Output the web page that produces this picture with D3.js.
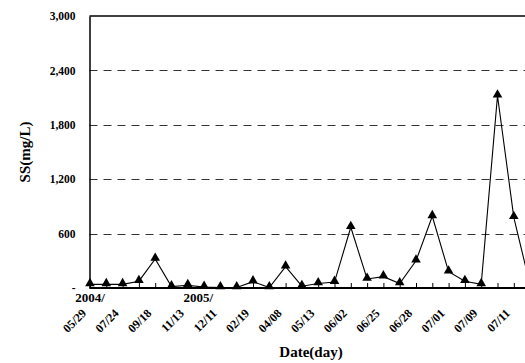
<!DOCTYPE html>
<html>
<head>
<meta charset="utf-8">
<script src="https://cdn.jsdelivr.net/npm/d3@7"></script>
<style>
  body { margin: 0; background: #fff; }
  text { font-family: "Liberation Serif", "Times New Roman", serif; font-weight: bold; fill: #000; }
</style>
</head>
<body>
<script>
const width = 525, height = 363;

// sample index (points are evenly spaced on the axis)
const ss = [40, 40, 40, 75, 320, 15, 30, 10, 5, 5, 70, 5, 235, 20, 50, 65, 670, 100,
            125, 50, 300, 790, 180, 75, 40, 2120, 780, 30];
const tickLabels = ['05/29', '07/24', '09/18', '11/13', '12/11', '02/19', '04/08',
                    '05/13', '06/02', '06/25', '06/28', '07/01', '07/09', '07/11'];
const yearLabels = [{ idx: 0, text: '2004/' }, { idx: 8, text: '2005/' }];
const yTicks = [0, 600, 1200, 1800, 2400, 3000];

const plotLeft = 89.5, plotTop = 16, plotBottom = 288;

let x = d3.scaleLinear().domain([0, 27]).range([plotLeft + 0.5, plotLeft + 0.5 + 16.3 * 27]);
let y = d3.scaleLinear().domain([0, 3000]).range([plotBottom, plotTop]);

let svg = d3.select('body').append('svg')
  .attr('width', width)
  .attr('height', height);

// dashed grid lines
svg.append('g')
  .selectAll('line')
  .data(yTicks.filter(d => d > 0 && d < 3000))
  .enter()
  .append('line')
  .attr('x1', plotLeft)
  .attr('x2', width)
  .attr('y1', d => Math.round(y(d)) + 0.5)
  .attr('y2', d => Math.round(y(d)) + 0.5)
  .attr('stroke', '#333')
  .attr('stroke-width', 1)
  .attr('stroke-dasharray', '8,6');

// top border
svg.append('line')
  .attr('x1', plotLeft).attr('x2', width)
  .attr('y1', y(3000)).attr('y2', y(3000))
  .attr('stroke', '#000').attr('stroke-width', 1.3);

// y axis
let yAxis = d3.axisLeft(y)
  .tickValues(yTicks)
  .tickSize(0)
  .tickPadding(14)
  .tickFormat(d => d === 0 ? '-' : d3.format(',')(d));

svg.append('g')
  .attr('transform', 'translate(' + plotLeft + ',0)')
  .call(yAxis)
  .call(g => g.select('.domain').attr('stroke-width', 1.5))
  .selectAll('text')
  .style('font-size', '11.5px')
  .style('font-family', '"Liberation Serif", serif')
  .style('font-weight', 'bold');

// x axis with inward ticks
let xAxis = d3.axisBottom(x)
  .tickValues(d3.range(0, 28))
  .tickSizeInner(-5)
  .tickSizeOuter(0)
  .tickFormat('');

svg.append('g')
  .attr('transform', 'translate(0,' + plotBottom + ')')
  .call(xAxis)
  .call(g => g.select('.domain').attr('stroke-width', 1.8).attr('d', 'M' + plotLeft + ',0H' + width));

// rotated date labels at every other tick
svg.append('g')
  .selectAll('text')
  .data(tickLabels)
  .enter()
  .append('text')
  .attr('text-anchor', 'end')
  .attr('transform', (d, i) => 'translate(' + (x(i * 2) - 3) + ',' + (plotBottom + 26) + ') rotate(-45)')
  .style('font-size', '12px')
  .text(d => d);

svg.append('g')
  .selectAll('text')
  .data(yearLabels)
  .enter()
  .append('text')
  .attr('x', d => x(d.idx) + (d.idx === 0 ? 0 : -22))
  .attr('y', plotBottom + 14)
  .attr('text-anchor', 'middle')
  .style('font-size', '13px')
  .text(d => d.text);

// series line
let line = d3.line()
  .x((d, i) => x(i))
  .y(d => y(d));

svg.append('path')
  .datum(ss)
  .attr('d', line)
  .attr('fill', 'none')
  .attr('stroke', '#000')
  .attr('stroke-width', 1.1);

// triangle markers
svg.append('g')
  .selectAll('path')
  .data(ss)
  .enter()
  .append('path')
  .attr('d', d3.symbol().type(d3.symbolTriangle).size(40))
  .attr('transform', (d, i) => 'translate(' + x(i) + ',' + (y(d) - 1) + ')')
  .attr('fill', '#000');

// axis titles
svg.append('text')
  .attr('transform', 'translate(30,' + ((plotTop + plotBottom) / 2) + ') rotate(-90)')
  .attr('text-anchor', 'middle')
  .style('font-size', '15px')
  .text('SS(mg/L)');

svg.append('text')
  .attr('x', 311)
  .attr('y', 357)
  .attr('text-anchor', 'middle')
  .style('font-size', '15px')
  .text('Date(day)');
</script>
</body>
</html>
